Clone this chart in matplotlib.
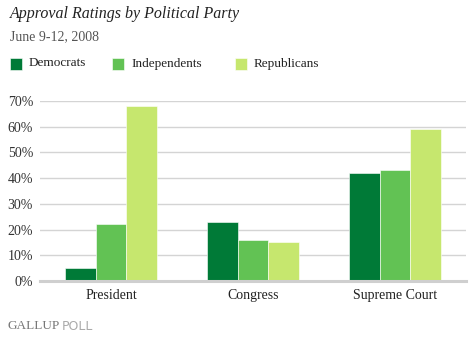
import matplotlib
matplotlib.use("Agg")
import matplotlib.pyplot as plt
import numpy as np

categories = ["President", "Congress", "Supreme Court"]
series_names = ["Democrats", "Independents", "Republicans"]
democrats = [5, 23, 42]
independents = [22, 16, 43]
republicans = [68, 15, 59]
yticks = [0, 10, 20, 30, 40, 50, 60, 70]
colors = ["#007A37", "#62C254", "#C6E76E"]

W, H = 474, 338
fig = plt.figure(figsize=(W / 100, H / 100), dpi=100)
serif = "Liberation Serif"

ax = fig.add_axes([40 / W, 1 - 281 / H, 426 / W, 180 / H])
x = np.arange(len(categories))
bw = 0.215
for i, (vals, c) in enumerate(zip([democrats, independents, republicans], colors)):
    ax.bar(x + (i - 1) * bw, vals, bw, color=c, edgecolor="white", linewidth=0.4, zorder=3)

ax.set_xlim(-0.5, 2.5)
ax.set_ylim(0, 70)
ax.set_yticks(yticks)
ax.set_yticklabels([f"{v}%" for v in yticks], fontfamily=serif, fontsize=10, color="#333333")
ax.set_xticks(x)
ax.set_xticklabels(categories, fontfamily=serif, fontsize=10, color="#222222")
ax.tick_params(length=0, axis="y", pad=5)
ax.tick_params(length=0, axis="x", pad=6)
ax.grid(axis="y", color="#D4D4D4", linewidth=1, zorder=0)
for s in ["top", "right", "left"]:
    ax.spines[s].set_visible(False)
ax.spines["bottom"].set_color("#CFCFCF")
ax.spines["bottom"].set_linewidth(2.2)
ax.spines["bottom"].set_zorder(4)
ax.set_facecolor("none")

fig.text(10 / W, 1 - 14 / H, "Approval Ratings by Political Party", fontfamily=serif,
         style="italic", fontsize=11.5, color="#222222", va="center", ha="left")
fig.text(10 / W, 1 - 37 / H, "June 9-12, 2008", fontfamily=serif, fontsize=10,
         color="#555555", va="center", ha="left")

leg_sq = [10, 112, 235]
for xs, name, c in zip(leg_sq, series_names, colors):
    fig.patches.append(plt.Rectangle((xs / W, 1 - 70 / H), 12 / W, 12 / H,
                                     transform=fig.transFigure, facecolor=c,
                                     edgecolor="white", linewidth=0.4))
    fig.text((xs + 19) / W, 1 - 63.5 / H, name, fontfamily=serif, fontsize=9.5,
             color="#222222", va="center", ha="left")

fig.text(7 / W, 1 - 326 / H, "GALLUP", fontfamily=serif, fontsize=9.5,
         color="#777777", va="center", ha="left")
fig.text(62 / W, 1 - 326 / H, "POLL", fontfamily="DejaVu Sans", fontsize=9,
         color="#AAAAAA", va="center", ha="left")

fig.savefig("out.png", dpi=100)
